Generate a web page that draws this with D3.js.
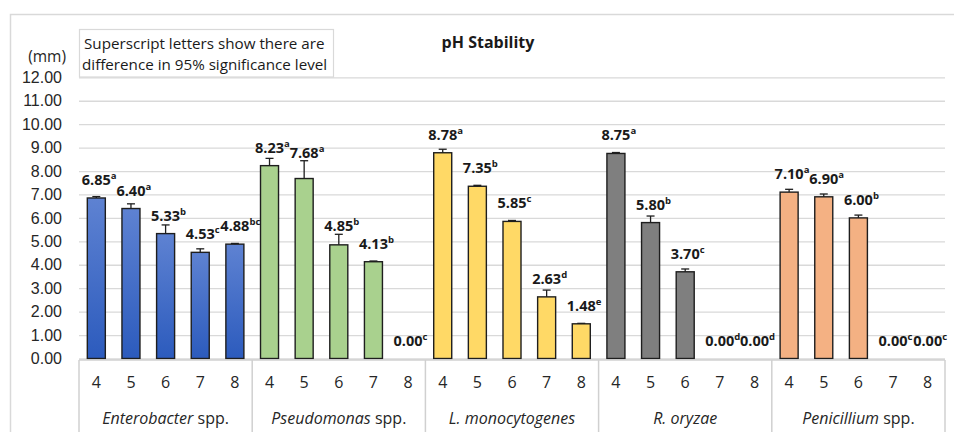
<!DOCTYPE html>
<html>
<head>
<meta charset="utf-8">
<script src="https://cdn.jsdelivr.net/npm/d3@7"></script>
<style>
  body { margin: 0; background: #fff; }
  svg { font-family: "Open Sans", Lato, sans-serif; }
</style>
</head>
<body>
<div id="chart"></div>
<script>
// Data
const groups = ["Enterobacter", "Pseudomonas", "L. monocytogenes", "R. oryzae", "Penicillium"];
const groupSuffix = [" spp.", " spp.", "", "", " spp."];
const phLevels = ["4", "5", "6", "7", "8"];
const groupColors = ["blue", "#a9d18e", "#ffd966", "#7f7f7f", "#f4b183"];

const meanValues = [
  6.85, 6.40, 5.33, 4.53, 4.88,
  8.23, 7.68, 4.85, 4.13, 0.00,
  8.78, 7.35, 5.85, 2.63, 1.48,
  8.75, 5.80, 3.70, 0.00, 0.00,
  7.10, 6.90, 6.00, 0.00, 0.00
];
const sdValues = [
  0.06, 0.20, 0.37, 0.15, 0.03,
  0.31, 0.76, 0.45, 0.03, 0.00,
  0.15, 0.04, 0.04, 0.29, 0.02,
  0.04, 0.28, 0.12, 0.00, 0.00,
  0.12, 0.12, 0.12, 0.00, 0.00
];
const sigLetters = [
  "a", "a", "b", "c", "bc",
  "a", "a", "b", "b", "c",
  "a", "b", "c", "d", "e",
  "a", "b", "c", "d", "d",
  "a", "a", "b", "c", "c"
];
const yTicks = [0, 1, 2, 3, 4, 5, 6, 7, 8, 9, 10, 11, 12];

// Dimensions
const width = 954, height = 432;
const plotLeft = 79, plotRight = 945, plotTop = 77.3, plotBottom = 358.5;

const svg = d3.select("#chart").append("svg")
  .attr("width", width)
  .attr("height", height);

// gradient for the blue bars
const defs = svg.append("defs");
const grad = defs.append("linearGradient")
  .attr("id", "blueGrad")
  .attr("x1", 0).attr("y1", 0).attr("x2", 0).attr("y2", 1);
grad.append("stop").attr("offset", "0%").attr("stop-color", "#5e82d2");
grad.append("stop").attr("offset", "100%").attr("stop-color", "#2c5bbd");

// outer chart border
svg.append("rect")
  .attr("x", 10.5).attr("y", 14.5)
  .attr("width", 960).attr("height", 440)
  .attr("fill", "none")
  .attr("stroke", "#d9d9d9")
  .attr("stroke-width", 1.5);

// Scales
const x0 = d3.scaleBand()
  .domain(groups)
  .range([plotLeft, plotRight])
  .padding(0);

const x1 = d3.scaleBand()
  .domain(phLevels)
  .range([0, x0.bandwidth()])
  .paddingInner(0.48)
  .paddingOuter(0.24);

const yScale = d3.scaleLinear()
  .domain([0, 12])
  .range([plotBottom, plotTop]);

// Y axis with gridlines
const yAxis = svg.append("g")
  .attr("transform", "translate(" + plotLeft + ",0)")
  .call(d3.axisLeft(yScale)
    .tickValues(yTicks)
    .tickFormat(d3.format(".2f"))
    .tickSize(-(plotRight - plotLeft))
    .tickPadding(17));
yAxis.select(".domain").remove();
yAxis.selectAll(".tick line")
  .attr("stroke", "#d9d9d9")
  .attr("stroke-width", 1.3);
yAxis.selectAll(".tick text")
  .attr("fill", "#262626")
  .style("font-size", "16px");

svg.append("text")
  .attr("x", 66)
  .attr("y", 62)
  .attr("text-anchor", "end")
  .attr("fill", "#262626")
  .style("font-size", "15.5px")
  .text("(mm)");

// Flatten rows
const rows = [];
groups.forEach(function (g, gi) {
  phLevels.forEach(function (p, pi) {
    const i = gi * phLevels.length + pi;
    rows.push({ group: g, gi: gi, ph: p, mean: meanValues[i], sd: sdValues[i], sig: sigLetters[i] });
  });
});

function cx(d) { return x0(d.group) + x1(d.ph) + x1.bandwidth() / 2; }

// Bars
svg.selectAll("rect.bar")
  .data(rows.filter(function (d) { return d.mean > 0; }))
  .enter()
  .append("rect")
    .attr("class", "bar")
    .attr("x", function (d) { return x0(d.group) + x1(d.ph); })
    .attr("y", function (d) { return yScale(d.mean); })
    .attr("width", x1.bandwidth())
    .attr("height", function (d) { return yScale(0) - yScale(d.mean); })
    .attr("fill", function (d) { return d.gi === 0 ? "url(#blueGrad)" : groupColors[d.gi]; })
    .attr("stroke", "#1e1e1e")
    .attr("stroke-width", 1.4);

// Error bars (plus side only)
const errs = svg.selectAll("g.err")
  .data(rows.filter(function (d) { return d.sd > 0; }))
  .enter()
  .append("g")
    .attr("class", "err")
    .attr("stroke", "#1e1e1e")
    .attr("stroke-width", 1.3);
errs.append("line")
  .attr("x1", cx)
  .attr("x2", cx)
  .attr("y1", function (d) { return yScale(d.mean); })
  .attr("y2", function (d) { return yScale(d.mean + d.sd); });
errs.append("line")
  .attr("x1", function (d) { return cx(d) - 4; })
  .attr("x2", function (d) { return cx(d) + 4; })
  .attr("y1", function (d) { return yScale(d.mean + d.sd); })
  .attr("y2", function (d) { return yScale(d.mean + d.sd); });

// Value labels: number centred over the bar, superscript letter trailing.
// Lifted over tall error bars.
const labels = svg.selectAll("text.val")
  .data(rows)
  .enter()
  .append("text")
    .attr("class", "val")
    .attr("y", function (d) { return Math.min(yScale(d.mean) - 13, yScale(d.mean + d.sd) - 3); })
    .attr("fill", "#1a1a1a")
    .style("font-size", "14.5px")
    .style("font-weight", "bold");
labels.append("tspan").attr("class", "num").text(function (d) { return d.mean.toFixed(2); });
labels.append("tspan")
  .attr("dy", -6)
  .style("font-size", "9.5px")
  .text(function (d) { return d.sig; });
labels.each(function (d) {
  const w = d3.select(this).select("tspan.num").node().getComputedTextLength();
  d3.select(this).attr("x", cx(d) - w / 2);
});

// Category axis (table style)
const axisY = yScale(0) + 1.5;
svg.append("line")
  .attr("x1", plotLeft).attr("x2", plotRight)
  .attr("y1", axisY).attr("y2", axisY)
  .attr("stroke", "#d0d0d0")
  .attr("stroke-width", 1.5);

svg.selectAll("line.sep")
  .data(groups.concat(["end"]))
  .enter()
  .append("line")
    .attr("class", "sep")
    .attr("x1", function (d, i) { return i < groups.length ? x0(d) : plotRight; })
    .attr("x2", function (d, i) { return i < groups.length ? x0(d) : plotRight; })
    .attr("y1", axisY)
    .attr("y2", height)
    .attr("stroke", "#d0d0d0")
    .attr("stroke-width", 1.5);

svg.selectAll("text.ph")
  .data(rows)
  .enter()
  .append("text")
    .attr("class", "ph")
    .attr("x", cx)
    .attr("y", 388)
    .attr("text-anchor", "middle")
    .attr("fill", "#262626")
    .style("font-size", "16px")
    .text(function (d) { return d.ph; });

const gl = svg.selectAll("text.grp")
  .data(groups)
  .enter()
  .append("text")
    .attr("class", "grp")
    .attr("x", function (d) { return x0(d) + x0.bandwidth() / 2; })
    .attr("y", 424)
    .attr("text-anchor", "middle")
    .attr("fill", "#262626")
    .style("font-size", "16px");
gl.append("tspan").style("font-style", "italic").text(function (d) { return d; });
gl.append("tspan").text(function (d, i) { return groupSuffix[i]; });

// Note box
svg.append("rect")
  .attr("x", 79.5).attr("y", 29.5)
  .attr("width", 254).attr("height", 47.5)
  .attr("fill", "#fff")
  .attr("stroke", "#d9d9d9")
  .attr("stroke-width", 1.2);
svg.append("text")
  .attr("x", 84).attr("y", 49)
  .attr("fill", "#1a1a1a")
  .style("font-size", "15.2px")
  .text("Superscript letters show there are");
svg.append("text")
  .attr("x", 82).attr("y", 70)
  .attr("fill", "#1a1a1a")
  .style("font-size", "15.2px")
  .text("difference in 95% significance level");

// Title
svg.append("text")
  .attr("x", 488).attr("y", 48)
  .attr("text-anchor", "middle")
  .attr("fill", "#1a1a1a")
  .style("font-size", "16px")
  .style("font-weight", "bold")
  .text("pH Stability");
</script>
</body>
</html>
